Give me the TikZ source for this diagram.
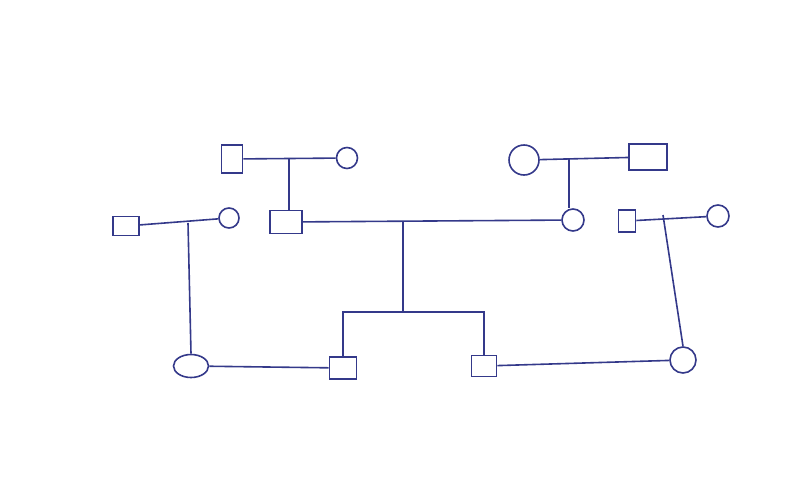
\documentclass[tikz,border=0pt]{standalone}
\usepackage{tikz}
\usetikzlibrary{shapes.geometric}
\definecolor{ink}{HTML}{34398A}

\begin{document}
\begin{tikzpicture}[x=1pt,y=-1pt,line width=1.6pt,
  male/.style={draw=ink,rectangle,inner sep=0,minimum width=24pt,minimum height=22pt},
  female/.style={draw=ink,circle,inner sep=0,minimum size=22pt}]
  \useasboundingbox[fill=white] (0,0) rectangle (800,498);
  % grandparents, top row
  \node[male,minimum width=21pt,minimum height=28pt] (pgf) at (232,159){};
  \node[female,minimum size=21pt] (pgm) at (347,158){};
  \node[female,minimum size=30pt] (mgm) at (524,160){};
  \node[male,minimum width=38pt,minimum height=26pt] (mgf) at (648,157){};
  % parents
  \node[male,minimum width=32pt,minimum height=23pt] (dad) at (286,222){};
  \node[female] (mom) at (573,220){};
  \node[male,minimum width=26pt,minimum height=19pt] (lgf) at (126,226){};
  \node[female,minimum size=20pt] (lgm) at (229,218){};
  \node[male,minimum width=17pt,minimum height=22pt] (rgf) at (627,221){};
  \node[female] (rgm) at (718,216){};
  % bottom row
  \node[draw=ink,ellipse,inner sep=0,minimum width=35pt,minimum height=23pt] (lwife) at (191,366){};
  \node[male,minimum width=27pt] (son1) at (343,368){};
  \node[male,minimum width=25pt,minimum height=21pt] (son2) at (484,366){};
  \node[female,minimum size=26pt] (rwife) at (683,360){};
  % couples
  \draw[ink] (pgf) -- (pgm);
  \draw[ink] (mgm) -- (mgf);
  \draw[ink] (dad) -- (mom);
  \draw[ink] (lgf) -- (lgm);
  \draw[ink] (rgf) -- (rgm);
  \draw[ink] (lwife) -- (son1);
  \draw[ink] (son2) -- (rwife);
  % descent
  \coordinate (p1) at (289,159);
  \coordinate (p2) at (569,158);
  \coordinate (p3) at (403,222);
  \coordinate (sib) at (403,312);
  \coordinate (p4) at (188,223);
  \coordinate (p5) at (663,215);
  \draw[ink] (p1) -- (p1 |- dad.north);
  \draw[ink] (p2) -- (p2 |- mom.north);
  \draw[ink] (p3) -- (sib);
  \draw[ink] (son1.north) |- (sib) -| (son2.north);
  \draw[ink] (p4) -- (lwife.north);
  \draw[ink] (p5) -- (rwife.north);
\end{tikzpicture}
\end{document}
